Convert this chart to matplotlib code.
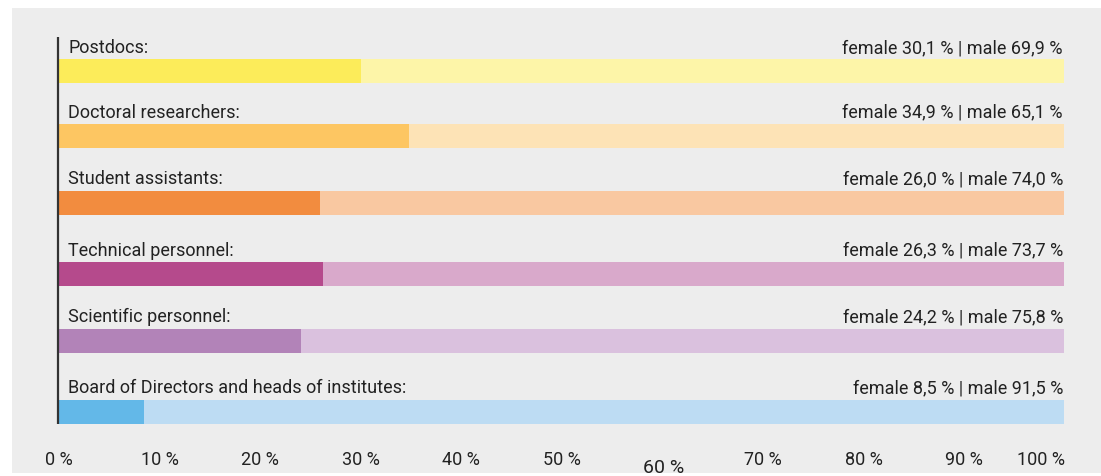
import matplotlib
matplotlib.use("Agg")
import matplotlib.pyplot as plt

categories = ["Postdocs:", "Doctoral researchers:", "Student assistants:",
              "Technical personnel:", "Scientific personnel:",
              "Board of Directors and heads of institutes:"]
female = [30.1, 34.9, 26.0, 26.3, 24.2, 8.5]
male = [69.9, 65.1, 74.0, 73.7, 75.8, 91.5]
female_labels = ["30,1", "34,9", "26,0", "26,3", "24,2", "8,5"]
male_labels = ["69,9", "65,1", "74,0", "73,7", "75,8", "91,5"]
tick_values = [0, 10, 20, 30, 40, 50, 60, 70, 80, 90, 100]
tick_labels = ["0 %", "10 %", "20 %", "30 %", "40 %", "50 %", "60 %",
               "70 %", "80 %", "90 %", "100 %"]

female_colors = ["#fcec5a", "#fdc662", "#f28c3f", "#b54a8c", "#b283b8", "#63b8e8"]
male_colors = ["#fdf5a8", "#fde3b6", "#f9c8a1", "#d9a9cb", "#dac1de", "#bddcf3"]

# layout (pixel rows of bar centres)
y_pos = [72, 136.5, 203.5, 274.5, 341.5, 412.5]
bar_h = 24

W, H = 1101, 477
fig = plt.figure(figsize=(W / 100, H / 100), dpi=100)
fig.patch.set_facecolor("white")

bg = fig.add_axes([12 / W, 3 / H, (W - 12) / W, (474 - 9) / H])
bg.set_facecolor("#ededed")
bg.set_xticks([])
bg.set_yticks([])
for s in bg.spines.values():
    s.set_visible(False)
bg.set_zorder(0)

ax = fig.add_axes([58 / W, 0, (1064 - 58) / W, 1])
ax.set_zorder(1)
ax.set_xlim(0, 100)
ax.set_ylim(H, 0)
ax.axis("off")
ax.patch.set_alpha(0)

fam = ["Roboto", "DejaVu Sans"]
tc = "#222222"

ax.barh(y_pos, female, height=bar_h, color=female_colors, left=0, linewidth=0)
ax.barh(y_pos, male, height=bar_h, color=male_colors, left=female, linewidth=0)

for i, cat in enumerate(categories):
    yb = y_pos[i] - bar_h / 2 - 7
    ax.text(1.0, yb, cat, ha="left", va="baseline", fontsize=13, color=tc,
            family=fam)
    ax.text(99.9, yb, f"female {female_labels[i]} % | male {male_labels[i]} %",
            ha="right", va="baseline", fontsize=13, color=tc, family=fam)

ax.plot([0, 0], [38, 425], color="#333333", lw=1.6, solid_capstyle="butt",
        clip_on=False)

for v, lab in zip(tick_values, tick_labels):
    if v == 60:
        ax.text(v + 0.2, 473, lab, ha="center", va="baseline", fontsize=14,
                color=tc, family=fam)
    elif v == 100:
        ax.text(100.1, 465, lab, ha="right", va="baseline", fontsize=13,
                color=tc, family=fam)
    else:
        ax.text(v + 0.1, 465, lab, ha="center", va="baseline", fontsize=13,
                color=tc, family=fam)

fig.savefig("out.png", dpi=100, facecolor="white")
